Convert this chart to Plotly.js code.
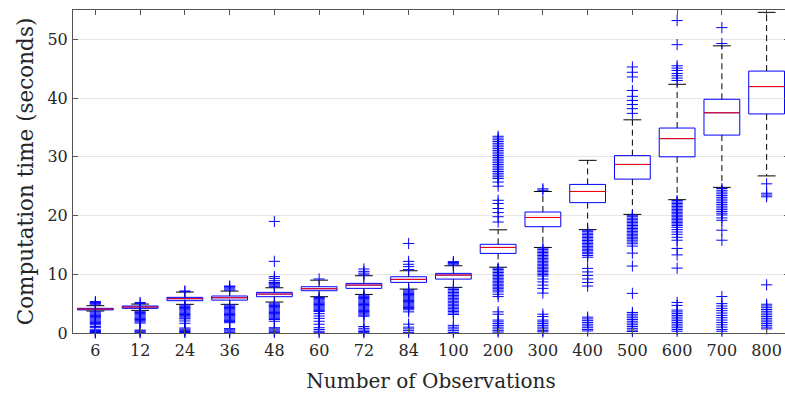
<!DOCTYPE html>
<html>
<head>
<meta charset="utf-8">
<script src="https://cdn.plot.ly/plotly-3.0.1.min.js"></script>
<style>
html,body{margin:0;padding:0;overflow:hidden;background:#fff;}
#chart{width:789px;height:398px;}
</style>
</head>
<body>
<div id="chart"></div>
<script>
// ---- data ----
const categories = ['6','12','24','36','48','60','72','84','100','200','300','400','500','600','700','800'];
const q1     = [3.93, 4.20, 5.50, 5.60, 6.18, 7.20, 7.60, 8.62, 9.18, 13.55, 18.10, 22.20, 26.20, 30.00, 33.70, 37.30];
const median = [4.08, 4.42, 5.84, 6.00, 6.63, 7.54, 8.16, 9.13, 9.86, 14.57, 19.67, 24.10, 28.70, 33.10, 37.50, 41.96];
const q3     = [4.20, 4.60, 6.07, 6.30, 6.92, 7.88, 8.45, 9.58, 10.15, 15.10, 20.60, 25.30, 30.20, 34.90, 39.80, 44.60];
const lowerWhisker = [3.74, 3.86, 4.88, 4.88, 5.27, 6.18, 6.57, 7.48, 7.77, 11.20, 14.57, 17.60, 20.20, 22.70, 24.80, 26.75];
const upperWhisker = [4.65, 4.93, 6.97, 7.14, 7.70, 9.00, 9.75, 10.60, 11.45, 17.57, 24.10, 29.40, 36.30, 42.35, 48.90, 54.60];
const outliers = [
  [4.8,5.0,5.2,5.35, 3.6,3.4,3.2,3.0,2.8,2.6,2.4,2.2,2.0,1.8,1.6,1.4,1.1,0.9,0.55,0.4,0.25,0.1,0.02],
  [5.0,5.2, 3.7,3.5,3.3,3.1,2.9,2.7,2.5,2.3,2.1,1.9,1.7,0.5,0.35,0.2,0.05],
  [7.05,7.15, 4.75,4.55,4.35,4.15,3.95,3.75,3.55,3.35,3.15,2.95,2.75,2.55,2.4,2.05,1.65,0.85,0.65,0.45,0.25,0.08],
  [7.3,7.5,7.7,7.9,8.0, 4.75,4.55,4.35,4.15,3.95,3.75,3.55,3.35,3.15,2.95,2.75,2.55,2.35,2.15,1.95,1.75,0.75,0.55,0.35,0.15,0.03],
  [7.85,8.0,8.2,8.4,8.6,8.9,9.3,9.6,12.2,19.0, 5.1,4.9,4.7,4.5,4.3,4.1,3.9,3.7,3.5,3.3,3.1,2.9,2.7,2.5,2.3,2.0,0.9,0.7,0.5,0.3,0.1],
  [9.2, 6.05,5.85,5.65,5.45,5.25,5.05,4.85,4.65,4.45,4.25,4.05,3.85,3.65,3.3,2.9,2.5,2.0,1.5,0.9,0.6,0.3,0.05],
  [9.9,10.2,10.5,10.9, 6.45,6.25,6.05,5.85,5.65,5.45,5.25,5.05,4.85,4.65,4.45,4.25,4.05,3.85,3.65,3.45,3.25,3.05,2.85,1.1,0.8,0.5,0.25,0.05],
  [10.8,11.3,11.7,12.2,15.25, 7.35,7.15,6.95,6.75,6.55,6.35,6.15,5.95,5.75,5.55,5.35,5.15,4.95,4.75,4.55,4.35,4.15,3.95,3.6,1.5,1.0,0.7,0.4,0.1],
  [11.6,11.8,12.0,12.15, 7.65,7.4,7.15,6.9,6.65,6.4,6.15,5.9,5.65,5.4,5.15,4.9,4.65,4.4,4.15,3.9,3.65,3.4,3.15,1.3,1.0,0.7,0.4,0.1],
  [18.9,19.8,20.5,21.2,22.05,22.6, 33.5,33.2,32.9,32.6,32.3,32.0,31.7,31.4,31.1,30.8,30.5,30.2,29.9,29.6,29.3,29.0,28.7,28.4,28.1,27.8,27.5,27.2,26.9,26.6,26.3,25.7,25.0,
   11.05,10.8,10.55,10.3,10.05,9.8,9.55,9.3,9.05,8.8,8.55,8.3,8.05,7.8,7.55,7.3,7.0,6.6,6.2, 3.6,3.2,2.2,1.9,1.6,1.3,1.0,0.7,0.4,0.15],
  [24.3,24.55, 14.45,14.2,13.95,13.7,13.45,13.2,12.95,12.7,12.45,12.2,11.95,11.7,11.45,11.2,10.95,10.7,10.45,10.2,9.95,9.7,9.2,8.7,8.15,7.6,6.8, 3.2,2.8,2.2,1.9,1.6,1.3,1.0,0.7,0.4,0.2],
  [17.5,17.25,17.0,16.75,16.5,16.25,16.0,15.75,15.5,15.25,15.0,14.75,14.5,14.25,14.0,13.75,13.5,13.2,12.9,11.0,10.4,9.8,9.2,8.6,8.0, 2.7,2.4,2.1,1.8,1.5,1.2,0.9,0.6,0.35],
  [45.3,44.4,43.6,41.3,40.3,39.6,38.9,38.2,37.4, 20.05,19.8,19.55,19.3,19.05,18.8,18.55,18.3,18.05,17.8,17.55,17.3,17.05,16.8,16.55,16.3,16.05,15.8,15.5,15.2,14.8,13.6,11.4, 6.75, 3.5,3.2,2.9,2.6,2.3,2.0,1.7,1.4,1.1,0.8,0.5,0.25],
  [53.2,49.1,45.5,45.1,44.7,44.2,43.8,43.4,43.0, 22.55,22.3,22.05,21.8,21.55,21.3,21.05,20.8,20.55,20.3,20.05,19.8,19.55,19.3,19.05,18.8,18.55,18.3,18.0,17.6,17.2,16.8,16.3,15.8,14.4,13.3,11.05, 5.2,4.7,3.9,3.6,3.3,3.0,2.7,2.4,2.1,1.8,1.5,1.2,0.9,0.6,0.3],
  [52.0,49.3, 24.6,24.3,24.0,23.7,23.4,23.1,22.8,22.5,22.2,21.9,21.6,21.3,21.0,20.7,20.4,20.1,19.6,19.2,17.5,15.8, 6.2,5.0,4.6,4.2,3.8,3.4,3.0,2.6,2.2,1.8,1.4,1.0,0.6,0.3],
  [25.4,23.8,23.5,23.2, 8.2,4.9,4.6,4.3,4.0,3.7,3.4,3.1,2.8,2.5,2.2,1.9,1.6,1.3,1.0,0.7]
];
const yTicks = [0,10,20,30,40,50];

// ---- build traces ----
const pos = categories.map((c,i)=>i+1);
const boxHalf = 0.4, capHalf = 0.2;

const boxTrace = {
  type:'box', x:pos, q1:q1, median:median, q3:q3,
  lowerfence:q1, upperfence:q3, boxpoints:false,
  width:0.8, whiskerwidth:0,
  line:{color:'#0000ff', width:1}, fillcolor:'rgba(0,0,0,0)',
  hoverinfo:'skip', showlegend:false
};

const wx=[], wy=[], cx=[], cy=[], mx=[], my=[];
pos.forEach((p,i)=>{
  wx.push(p,p,null, p,p,null);
  wy.push(q3[i],upperWhisker[i],null, q1[i],lowerWhisker[i],null);
  cx.push(p-capHalf,p+capHalf,null, p-capHalf,p+capHalf,null);
  cy.push(upperWhisker[i],upperWhisker[i],null, lowerWhisker[i],lowerWhisker[i],null);
  mx.push(p-boxHalf,p+boxHalf,null);
  my.push(median[i],median[i],null);
});
const whiskers = {type:'scatter', mode:'lines', x:wx, y:wy, line:{color:'#000', width:1, dash:'6px,4px'}, hoverinfo:'skip', showlegend:false};
const caps = {type:'scatter', mode:'lines', x:cx, y:cy, line:{color:'#000', width:1}, hoverinfo:'skip', showlegend:false};
const medians = {type:'scatter', mode:'lines', x:mx, y:my, line:{color:'#ff0000', width:1}, hoverinfo:'skip', showlegend:false};

const ox=[], oy=[];
outliers.forEach((arr,i)=>arr.forEach(v=>{ox.push(pos[i]); oy.push(v);}));
const outTrace = {type:'scatter', mode:'markers', x:ox, y:oy, cliponaxis:false,
  marker:{symbol:'cross-thin-open', size:8, color:'#0000ff', line:{color:'#0000ff', width:1}},
  hoverinfo:'skip', showlegend:false};

const font = 'DejaVu Serif, Liberation Serif, serif';
const layout = {
  width:789, height:398,
  margin:{l:73, r:0, t:10, b:65},
  paper_bgcolor:'#fff', plot_bgcolor:'#fff',
  showlegend:false,
  font:{family:font, color:'#262626', size:16},
  xaxis:{
    range:[0.5,16.5], tickvals:pos, ticktext:categories,
    showgrid:false, zeroline:false,
    showline:true, linecolor:'#555', linewidth:1, mirror:'ticks',
    ticks:'inside', ticklen:5, tickcolor:'#555',
    ticklabelstandoff:3,
    tickfont:{family:font, size:16, color:'#262626'},
    title:{text:'Number of Observations', font:{family:font, size:20, color:'#262626'}, standoff:14}
  },
  yaxis:{
    range:[0,55], tickvals:yTicks,
    showgrid:true, gridcolor:'#e6e6e6', gridwidth:1, zeroline:false,
    showline:true, linecolor:'#555', linewidth:1, mirror:'ticks',
    ticks:'inside', ticklen:5, tickcolor:'#555',
    ticklabelstandoff:1,
    tickfont:{family:font, size:16, color:'#262626'},
    title:{text:'Computation time (seconds)', font:{family:font, size:21.5, color:'#262626'}, standoff:7}
  }
};

Plotly.newPlot('chart', [boxTrace, whiskers, caps, medians, outTrace], layout, {displayModeBar:false, staticPlot:true});
</script>
</body>
</html>
